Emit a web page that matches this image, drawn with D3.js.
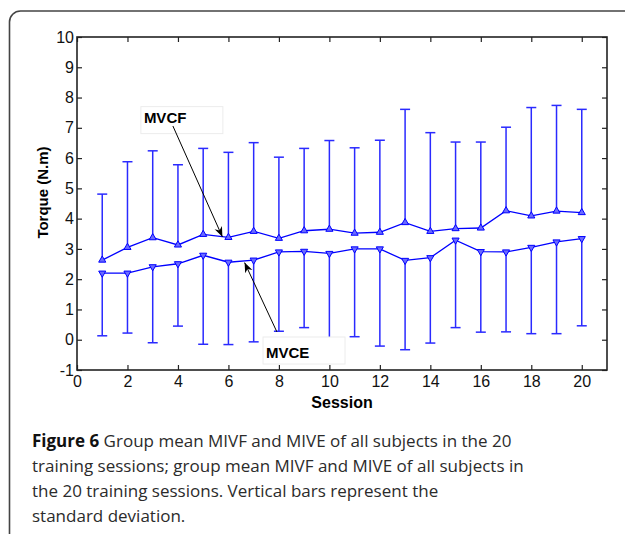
<!DOCTYPE html>
<html lang="en">
<head>
<meta charset="UTF-8">
<title>Figure 6</title>
<script src="https://d3js.org/d3.v7.min.js"></script>
<style>
    body { margin: 0; background: #fff; }
    svg { display: block; }
</style>
</head>
<body>
<div id="chart"></div>
<script>
// values
var sessions = [1,2,3,4,5,6,7,8,9,10,11,12,13,14,15,16,17,18,19,20];
var mvcfMean = [2.63,3.05,3.37,3.13,3.48,3.38,3.58,3.35,3.60,3.65,3.52,3.55,3.87,3.58,3.67,3.69,4.26,4.09,4.25,4.20];
var mvcfSD   = [2.18,2.83,2.87,2.65,2.84,2.81,2.93,2.68,2.72,2.93,2.82,3.04,3.74,3.26,2.86,2.84,2.76,3.58,3.49,3.41];
var mvceMean = [2.20,2.20,2.41,2.51,2.79,2.56,2.63,2.90,2.92,2.85,3.00,3.00,2.62,2.71,3.29,2.91,2.90,3.05,3.23,3.34];
var mvceSD   = [2.07,1.98,2.51,2.06,2.94,2.72,2.70,2.62,2.52,2.82,2.90,3.21,2.95,2.82,2.89,2.66,2.64,2.85,3.03,2.88];
var xTicks = [0,2,4,6,8,10,12,14,16,18,20];
var yTicks = [-1,0,1,2,3,4,5,6,7,8,9,10];

// annotations (data units): text baseline, box top, arrow start and tip
var notes = [
    {label: "MVCF", tx: 2.65, ty: 7.17, boxTop: 7.70, x1: 3.80, y1: 7.06, x2: 5.76, y2: 3.40},
    {label: "MVCE", tx: 7.49, ty: -0.60, boxTop: 0.09, x1: 7.92, y1: 0.26, x2: 6.64, y2: 2.55}
];

var captionLines = [
    ["Figure 6", " Group mean MIVF and MIVE of all subjects in the 20"],
    ["", "training sessions; group mean MIVF and MIVE of all subjects in"],
    ["", "the 20 training sessions. Vertical bars represent the"],
    ["", "standard deviation."]
];

var width = 625, height = 534;
var plotL = 77, plotR = 607, plotT = 37, plotB = 370;
var axisFont = "Arial, 'Liberation Sans', sans-serif";

var svg = d3.select("#chart").append("svg")
    .attr("width", width)
    .attr("height", height);

svg.append("rect").attr("width", width).attr("height", height).attr("fill", "#fff");

// frame round the figure (open at right and bottom)
svg.append("path")
    .attr("d", "M9.5,534 V22 A11,11 0 0 1 20.5,11 H625")
    .attr("fill", "none")
    .attr("stroke", "#444")
    .attr("stroke-width", 1.6);

var x = d3.scaleLinear().domain([0, 21]).range([plotL, plotR]);
var y = d3.scaleLinear().domain([-1, 10]).range([plotB, plotT]);

var defs = svg.append("defs");
defs.append("marker")
    .attr("id", "head")
    .attr("viewBox", "0 0 10 10")
    .attr("refX", 10).attr("refY", 5)
    .attr("markerWidth", 10).attr("markerHeight", 10)
    .attr("markerUnits", "userSpaceOnUse")
    .attr("orient", "auto")
  .append("path")
    .attr("d", "M0,1 L10,5 L0,9 L3,5 Z")
    .attr("fill", "#000");

var plain = function(d) { return String(d); };

// axes (ticks pointing inward, MATLAB style)
var gx = svg.append("g")
    .attr("transform", "translate(0," + plotB + ")")
    .call(d3.axisBottom(x).tickValues(xTicks).tickSizeInner(-5).tickSizeOuter(0).tickPadding(6).tickFormat(plain));
svg.append("g")
    .attr("transform", "translate(0," + plotT + ")")
    .call(d3.axisTop(x).tickValues(xTicks).tickSizeInner(-5).tickSizeOuter(0).tickFormat(""));
var gy = svg.append("g")
    .attr("transform", "translate(" + plotL + ",0)")
    .call(d3.axisLeft(y).tickValues(yTicks).tickSizeInner(-5).tickSizeOuter(0).tickPadding(3).tickFormat(plain));
svg.append("g")
    .attr("transform", "translate(" + plotR + ",0)")
    .call(d3.axisRight(y).tickValues(yTicks).tickSizeInner(-5).tickSizeOuter(0).tickFormat(""));

[gx, gy].forEach(function(g) {
    g.attr("font-family", axisFont).attr("font-size", 16);
    g.selectAll(".tick text").attr("fill", "#111");
});

svg.selectAll(".domain").remove();
svg.selectAll(".tick line").attr("stroke", "#222").attr("stroke-width", 1.2);

svg.append("rect")
    .attr("x", plotL).attr("y", plotT)
    .attr("width", plotR - plotL).attr("height", plotB - plotT)
    .attr("fill", "none")
    .attr("stroke", "#222")
    .attr("stroke-width", 1.6);

var blue = "#0000ff";

// error bars: MVCF upward, MVCE downward
function bars(means, sds, dir) {
    var g = svg.append("g").attr("stroke", "#2a2aff").attr("stroke-width", 1.5);
    sessions.forEach(function(s, i) {
        var end = means[i] + dir * sds[i];
        g.append("line")
            .attr("x1", x(s)).attr("x2", x(s))
            .attr("y1", y(means[i])).attr("y2", y(end));
        g.append("line")
            .attr("x1", x(s) - 5).attr("x2", x(s) + 5)
            .attr("y1", y(end)).attr("y2", y(end));
    });
}
bars(mvcfMean, mvcfSD, 1);
bars(mvceMean, mvceSD, -1);

var line = d3.line()
    .x(function(d) { return x(d[0]); })
    .y(function(d) { return y(d[1]); });

function series(means, rot) {
    var pts = sessions.map(function(s, i) { return [s, means[i]]; });
    svg.append("path")
        .attr("d", line(pts))
        .attr("fill", "none")
        .attr("stroke", blue)
        .attr("stroke-width", 1.3);
    svg.append("g").selectAll("path")
        .data(pts)
        .enter().append("path")
        .attr("d", d3.symbol().type(d3.symbolTriangle).size(22))
        .attr("transform", function(d) { return "translate(" + x(d[0]) + "," + y(d[1]) + ") rotate(" + rot + ")"; })
        .attr("fill", "#6a6aff")
        .attr("stroke", blue)
        .attr("stroke-width", 1);
}
series(mvcfMean, 0);
series(mvceMean, 180);

// annotations
notes.forEach(function(n) {
    var g = svg.append("g");
    g.append("rect")
        .attr("x", x(n.tx) - 3).attr("y", y(n.boxTop))
        .attr("width", 82).attr("height", 27)
        .attr("fill", "#fff")
        .attr("stroke", "#ececec");
    g.append("text")
        .attr("x", x(n.tx)).attr("y", y(n.ty))
        .attr("font-family", axisFont)
        .attr("font-size", 15)
        .attr("font-weight", "bold")
        .attr("fill", "#000")
        .text(n.label);
    svg.append("line")
        .attr("x1", x(n.x1)).attr("y1", y(n.y1))
        .attr("x2", x(n.x2)).attr("y2", y(n.y2))
        .attr("stroke", "#000")
        .attr("stroke-width", 1)
        .attr("marker-end", "url(#head)");
});

// axis titles
svg.append("text")
    .attr("transform", "translate(48," + ((plotT + plotB) / 2 - 11) + ") rotate(-90)")
    .attr("text-anchor", "middle")
    .attr("font-family", axisFont)
    .attr("font-size", 15)
    .attr("font-weight", "bold")
    .text("Torque (N.m)");
svg.append("text")
    .attr("x", (plotL + plotR) / 2)
    .attr("y", 408)
    .attr("text-anchor", "middle")
    .attr("font-family", axisFont)
    .attr("font-size", 16)
    .attr("font-weight", "bold")
    .text("Session");

// caption
var cap = svg.append("text")
    .attr("font-family", "'Open Sans', 'Noto Sans', sans-serif")
    .attr("font-size", 17)
    .attr("fill", "#2b2b2b");
captionLines.forEach(function(l, i) {
    var row = cap.append("tspan").attr("x", 32).attr("y", 447 + i * 25);
    if (l[0]) row.append("tspan").attr("font-weight", "bold").attr("fill", "#111").text(l[0]);
    row.append("tspan").text(l[1]);
});
</script>
</body>
</html>
